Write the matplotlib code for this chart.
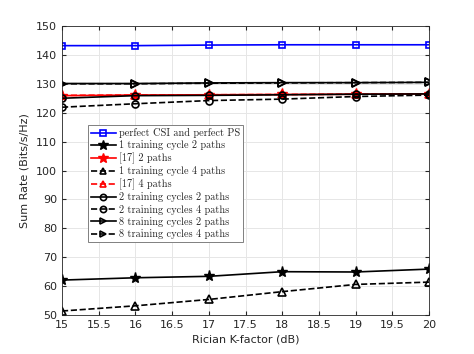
import matplotlib.pyplot as plt
import numpy as np

k_factor = [15, 16, 17, 18, 19, 20]

perfect = [143.2, 143.2, 143.4, 143.5, 143.5, 143.5]
one_cycle_2p = [62.1, 62.9, 63.4, 65.0, 64.9, 65.9]
ref17_2p = [125.9, 126.1, 126.2, 126.3, 126.4, 126.5]
one_cycle_4p = [51.4, 53.2, 55.4, 58.1, 60.6, 61.4]
ref17_4p = [126.0, 126.1, 126.2, 126.3, 126.4, 126.5]
two_cycles_2p = [125.0, 125.9, 126.0, 126.2, 126.4, 126.5]
two_cycles_4p = [121.9, 123.1, 124.2, 124.7, 125.6, 126.1]
eight_cycles_2p = [130.1, 130.1, 130.3, 130.4, 130.4, 130.5]
eight_cycles_4p = [130.0, 130.0, 130.2, 130.3, 130.4, 130.5]

labels = ['perfect CSI and perfect PS', '1 training cycle 2 paths', '[17] 2 paths',
          '1 training cycle 4 paths', '[17] 4 paths', '2 training cycles 2 paths',
          '2 training cycles 4 paths', '8 training cycles 2 paths', '8 training cycles 4 paths']

fig = plt.figure(figsize=(4.74, 3.54), dpi=100)
ax = fig.add_axes([0.1308, 0.110, 0.7743, 0.8166])

lw = 1.2
mew = 1.2
ax.plot(k_factor, perfect, '-s', color='#0000ff', lw=lw, ms=4.5, mfc='none', mew=mew, label=labels[0])
ax.plot(k_factor, one_cycle_2p, '-*', color='black', lw=lw, ms=8, label=labels[1])
ax.plot(k_factor, ref17_2p, '-*', color='red', lw=lw, ms=8, label=labels[2])
ax.plot(k_factor, one_cycle_4p, '--^', color='black', lw=lw, ms=5.5, mfc='none', mew=mew, label=labels[3])
ax.plot(k_factor, ref17_4p, '--^', color='red', lw=lw, ms=5.5, mfc='none', mew=mew, label=labels[4])
ax.plot(k_factor, two_cycles_2p, '-o', color='black', lw=lw, ms=5, mfc='none', mew=mew, label=labels[5])
ax.plot(k_factor, two_cycles_4p, '--o', color='black', lw=lw, ms=5, mfc='none', mew=mew, label=labels[6])
ax.plot(k_factor, eight_cycles_2p, '->', color='black', lw=lw, ms=5.5, mfc='none', mew=mew, label=labels[7])
ax.plot(k_factor, eight_cycles_4p, '-->', color='black', lw=lw, ms=5.5, mfc='none', mew=mew, label=labels[8])

ax.set_xlim(15, 20)
ax.set_ylim(50, 150)
ax.set_xticks(np.arange(15, 20.01, 0.5))
ax.set_xticklabels(['15', '15.5', '16', '16.5', '17', '17.5', '18', '18.5', '19', '19.5', '20'])
ax.set_yticks(np.arange(50, 151, 10))
ax.grid(True, color='#e6e6e6', lw=0.7)
ax.set_axisbelow(True)
ax.tick_params(direction='in', length=3, labelsize=8, colors='#262626', top=True, right=True)
for sp in ax.spines.values():
    sp.set_color('#262626')
    sp.set_linewidth(0.6)
ax.set_xlabel('Rician K-factor (dB)', fontsize=8, color='#262626', labelpad=3)
ax.set_ylabel('Sum Rate (Bits/s/Hz)', fontsize=8, color='#262626', labelpad=5)

leg = ax.legend(loc='upper left', bbox_to_anchor=(0.071, 0.657), borderaxespad=0,
                prop={'family': ['cmr10', 'DejaVu Serif'], 'size': 7.4},
                fancybox=False, framealpha=1, edgecolor='#808080',
                handlelength=2.4, handletextpad=0.3, labelspacing=0.22,
                borderpad=0.3, markerscale=0.9)
leg.get_frame().set_linewidth(0.7)
for t in leg.get_texts():
    t.set_color('#262626')

fig.savefig('out.png', dpi=100)
